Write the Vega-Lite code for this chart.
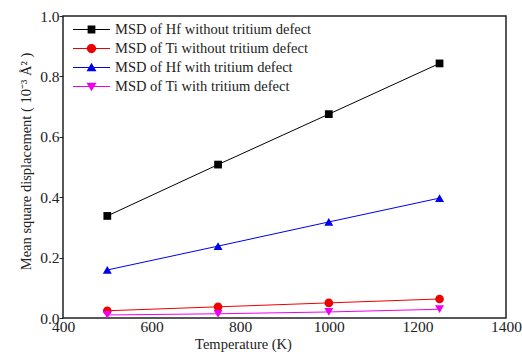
{
  "$schema": "https://vega.github.io/schema/vega-lite/v6.json",
  "width": 443,
  "height": 302,
  "autosize": {"type": "none"},
  "padding": {"left": 63, "top": 16, "right": 16, "bottom": 36},
  "background": "white",
  "config": {
    "font": "Liberation Serif",
    "view": {"stroke": "#222", "strokeWidth": 1.5},
    "axis": {"labelFont": "Liberation Serif", "titleFont": "Liberation Serif", "labelFontSize": 15.5, "titleFontSize": 14.5, "labelColor": "#222", "titleColor": "#222", "titleFontWeight": "normal", "grid": false, "domain": false, "tickColor": "#222"}
  },
  "data": {
    "values": [
      {"T": 500, "msd": 0.338, "series": "MSD of Hf without tritium defect"},
      {"T": 750, "msd": 0.508, "series": "MSD of Hf without tritium defect"},
      {"T": 1000, "msd": 0.675, "series": "MSD of Hf without tritium defect"},
      {"T": 1250, "msd": 0.843, "series": "MSD of Hf without tritium defect"},
      {"T": 500, "msd": 0.024, "series": "MSD of Ti without tritium defect"},
      {"T": 750, "msd": 0.037, "series": "MSD of Ti without tritium defect"},
      {"T": 1000, "msd": 0.050, "series": "MSD of Ti without tritium defect"},
      {"T": 1250, "msd": 0.063, "series": "MSD of Ti without tritium defect"},
      {"T": 500, "msd": 0.159, "series": "MSD of Hf with tritium defect"},
      {"T": 750, "msd": 0.238, "series": "MSD of Hf with tritium defect"},
      {"T": 1000, "msd": 0.318, "series": "MSD of Hf with tritium defect"},
      {"T": 1250, "msd": 0.397, "series": "MSD of Hf with tritium defect"},
      {"T": 500, "msd": 0.010, "series": "MSD of Ti with tritium defect"},
      {"T": 750, "msd": 0.014, "series": "MSD of Ti with tritium defect"},
      {"T": 1000, "msd": 0.020, "series": "MSD of Ti with tritium defect"},
      {"T": 1250, "msd": 0.029, "series": "MSD of Ti with tritium defect"}
    ]
  },
  "encoding": {
    "x": {"field": "T", "type": "quantitative", "title": "Temperature (K)",
      "scale": {"domain": [400, 1400], "nice": false},
      "axis": {"values": [400, 600, 800, 1000, 1200, 1400], "format": "d", "ticks": false, "labelPadding": 1, "titlePadding": 3, "titleX": 180, "labelFlush": false}},
    "y": {"field": "msd", "type": "quantitative", "title": "Mean square displacement ( 10⁻³ Å² )",
      "scale": {"domain": [0, 1.0], "nice": false},
      "axis": {"values": [0, 0.2, 0.4, 0.6, 0.8, 1.0], "format": ".1f", "tickSize": 4, "labelPadding": 0, "titlePadding": 6, "titleY": 145, "labelFlush": false}},
    "color": {"field": "series", "type": "nominal",
      "scale": {"domain": ["MSD of Hf without tritium defect", "MSD of Ti without tritium defect", "MSD of Hf with tritium defect", "MSD of Ti with tritium defect"],
        "range": ["#000000", "#ee0000", "#0000ee", "#ee00ee"]},
      "legend": {"orient": "none", "legendX": 10, "legendY": 4, "title": null, "labelFont": "Liberation Serif", "labelFontSize": 14.5, "labelColor": "#222", "labelOffset": 5, "symbolOpacity": 1, "symbolSize": 1369, "symbolStrokeWidth": 0, "rowPadding": 0, "clipHeight": 19, "padding": 0, "labelLimit": 400}}
  },
  "layer": [
    {"mark": {"type": "line", "strokeWidth": 1}},
    {"transform": [{"filter": "datum.series == 'MSD of Hf without tritium defect'"}], "mark": {"type": "point", "shape": "square", "filled": true, "opacity": 1, "size": 60}},
    {"transform": [{"filter": "datum.series == 'MSD of Ti without tritium defect'"}], "mark": {"type": "point", "shape": "circle", "filled": true, "opacity": 1, "size": 75}},
    {"transform": [{"filter": "datum.series == 'MSD of Hf with tritium defect'"}], "mark": {"type": "point", "shape": "triangle-up", "filled": true, "opacity": 1, "size": 80}},
    {"transform": [{"filter": "datum.series == 'MSD of Ti with tritium defect'"}], "mark": {"type": "point", "shape": "triangle-down", "filled": true, "opacity": 1, "size": 80}},
    {
      "mark": {"type": "point", "filled": true, "opacity": 0, "size": 1369},
      "encoding": {
        "shape": {"field": "series", "type": "nominal",
          "scale": {"domain": ["MSD of Hf without tritium defect", "MSD of Ti without tritium defect", "MSD of Hf with tritium defect", "MSD of Ti with tritium defect"],
            "range": [
              "M-1,-0.03H1V0.03H-1Z M-0.21,-0.21H0.21V0.21H-0.21Z",
              "M-1,-0.03H1V0.03H-1Z M-0.25,0A0.25,0.25 0 1,1 0.25,0A0.25,0.25 0 1,1 -0.25,0Z",
              "M-1,-0.03H1V0.03H-1Z M0,-0.26L0.27,0.2L-0.27,0.2Z",
              "M-1,-0.03H1V0.03H-1Z M-0.27,-0.2L0.27,-0.2L0,0.26Z"
            ]},
          "legend": {"orient": "none", "legendX": 10, "legendY": 4, "title": null, "labelFont": "Liberation Serif", "labelFontSize": 14.5, "labelColor": "#222", "labelOffset": 5, "symbolOpacity": 1, "symbolSize": 1369, "symbolStrokeWidth": 0, "rowPadding": 0, "clipHeight": 19, "padding": 0, "labelLimit": 400}}
      }
    }
  ]
}
